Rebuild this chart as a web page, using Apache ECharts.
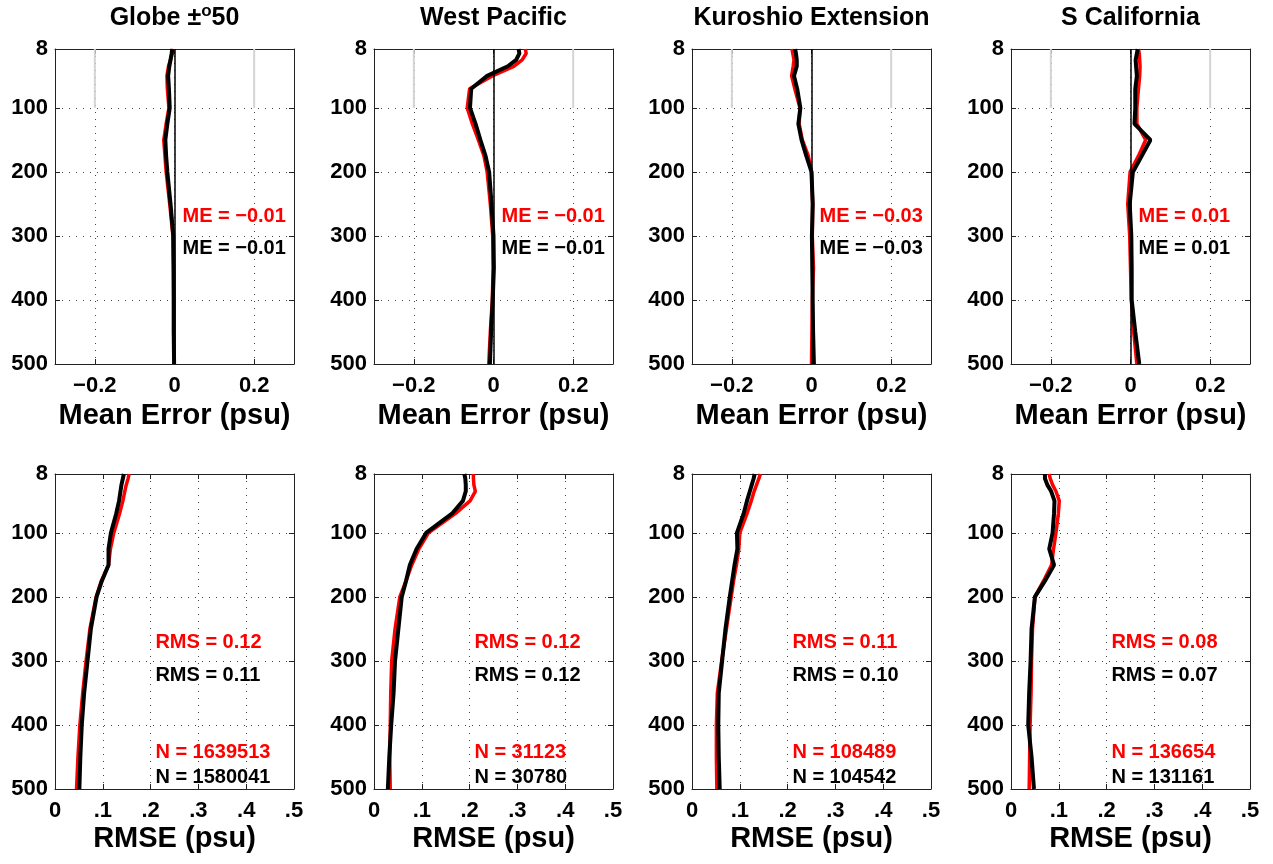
<!DOCTYPE html>
<html><head><meta charset="utf-8">
<script src="https://cdn.jsdelivr.net/npm/echarts@6/dist/echarts.min.js"></script>
<style>html,body{margin:0;padding:0;background:#fff}#c{width:1273px;height:864px}</style>
</head><body><div id="c"></div>
<script>
// ---------------- data ----------------
const depths = [8, 15, 25, 35, 50, 70, 100, 125, 150, 175, 200, 250, 300, 350, 400, 450, 500];
const yTicks = [8, 100, 200, 300, 400, 500];
const meTicks = [-0.2, 0, 0.2];
const guideX = [-0.2, 0.2];
const guideDepth = [8, 100];
const regionTitles = ['Globe ±|o|50', 'West Pacific', 'Kuroshio Extension', 'S California'];

// Mean error profiles (psu)
const meRedGlobe   = [-0.003,-0.006,-0.010,-0.015,-0.019,-0.018,-0.014,-0.021,-0.027,-0.024,-0.021,-0.012,-0.004,-0.003,-0.002,-0.002,-0.001];
const meBlackGlobe = [-0.006,-0.007,-0.010,-0.013,-0.016,-0.014,-0.012,-0.018,-0.023,-0.021,-0.018,-0.010,-0.003,-0.002,-0.002,-0.002,-0.001];
const meRedWP      = [0.080,0.082,0.072,0.051,-0.003,-0.060,-0.066,-0.053,-0.038,-0.024,-0.016,-0.008,-0.002,-0.001,-0.003,-0.008,-0.012];
const meBlackWP    = [0.063,0.065,0.057,0.036,-0.016,-0.056,-0.059,-0.045,-0.033,-0.020,-0.011,-0.005,0.000,0.001,-0.002,-0.006,-0.009];
const meRedKE      = [-0.049,-0.047,-0.044,-0.046,-0.050,-0.042,-0.029,-0.031,-0.023,-0.008,0.000,0.003,0.002,0.005,0.002,0.001,0.000];
const meBlackKE    = [-0.041,-0.039,-0.037,-0.037,-0.044,-0.036,-0.028,-0.033,-0.025,-0.013,0.000,0.003,0.001,0.002,0.003,0.004,0.006];
const meRedSC      = [0.020,0.022,0.023,0.024,0.023,0.020,0.016,0.016,0.038,0.020,-0.001,-0.007,-0.002,0.000,0.002,0.008,0.016];
const meBlackSC    = [0.018,0.016,0.013,0.014,0.016,0.012,0.012,0.010,0.050,0.028,0.006,-0.002,0.002,0.003,0.003,0.012,0.022];

// RMSE profiles (psu)
const rmsRedGlobe   = [0.155,0.153,0.149,0.146,0.142,0.135,0.123,0.116,0.112,0.097,0.086,0.073,0.065,0.058,0.052,0.048,0.045];
const rmsBlackGlobe = [0.144,0.142,0.139,0.137,0.134,0.128,0.117,0.112,0.112,0.098,0.087,0.075,0.068,0.061,0.056,0.053,0.051];
const rmsRedWP      = [0.208,0.208,0.209,0.212,0.201,0.170,0.114,0.094,0.079,0.067,0.054,0.044,0.037,0.035,0.034,0.033,0.034];
const rmsBlackWP    = [0.189,0.191,0.192,0.192,0.186,0.163,0.109,0.089,0.075,0.067,0.058,0.051,0.044,0.041,0.036,0.032,0.029];
const rmsRedKE      = [0.143,0.140,0.135,0.130,0.124,0.115,0.100,0.098,0.093,0.087,0.082,0.072,0.062,0.053,0.051,0.051,0.052];
const rmsBlackKE    = [0.131,0.129,0.125,0.121,0.115,0.108,0.094,0.095,0.089,0.084,0.079,0.070,0.063,0.056,0.055,0.056,0.058];
const rmsRedSC      = [0.080,0.082,0.087,0.094,0.101,0.099,0.094,0.089,0.085,0.068,0.050,0.045,0.043,0.042,0.040,0.039,0.038];
const rmsBlackSC    = [0.071,0.071,0.076,0.084,0.091,0.090,0.087,0.080,0.090,0.071,0.050,0.043,0.041,0.038,0.036,0.043,0.048];

// Summary statistics
const meStatRed   = [-0.01, -0.01, -0.03, 0.01];
const meStatBlack = [-0.01, -0.01, -0.03, 0.01];
const rmsStatRed   = [0.12, 0.12, 0.11, 0.08];
const rmsStatBlack = [0.11, 0.12, 0.10, 0.07];
const nRed   = [1639513, 31123, 108489, 136654];
const nBlack = [1580041, 30780, 104542, 131161];

// ---------------- chart ----------------
const meRed = [meRedGlobe, meRedWP, meRedKE, meRedSC];
const meBlack = [meBlackGlobe, meBlackWP, meBlackKE, meBlackSC];
const rmsRed = [rmsRedGlobe, rmsRedWP, rmsRedKE, rmsRedSC];
const rmsBlack = [rmsBlackGlobe, rmsBlackWP, rmsBlackKE, rmsBlackSC];

const FONT = "'Liberation Sans', Arial, Helvetica, sans-serif";
const RED = '#ff0000', BLK = '#000000';
const colLeft = [55, 374, 692, 1011];
const W = 239;
const rowTop = [49, 474];
const H = 315;

function fmt(v) { return (v < 0 ? '\u2212' : '') + Math.abs(v).toFixed(2); }
function pairs(xs) { return xs.map((x, k) => [x, depths[k]]); }

const grid = [], xAxis = [], yAxis = [], series = [];
const dotted = { show: true, lineStyle: { color: '#444', type: [1, 6], width: 1 } };
const axisLineStyle = { show: true, onZero: false, lineStyle: { color: '#222', width: 1 } };

for (let r = 0; r < 2; r++) {
  for (let c = 0; c < 4; c++) {
    grid.push({ left: colLeft[c], top: rowTop[r], width: W, height: H, containLabel: false });
  }
}
// main axes
for (let g = 0; g < 8; g++) {
  const r = Math.floor(g / 4);
  const xa = {
    type: 'value', gridIndex: g, position: 'bottom',
    axisLine: axisLineStyle,
    axisTick: { show: true, inside: true, length: 5, lineStyle: { color: '#222' } },
    splitLine: dotted,
    nameLocation: 'middle',
    nameTextStyle: { fontFamily: FONT, fontWeight: 'bold', fontSize: 29, color: '#000' },
    axisLabel: { fontFamily: FONT, fontWeight: 'bold', fontSize: 22, color: '#000', margin: 11 }
  };
  if (r === 0) {
    xa.min = -0.3; xa.max = 0.3;
    xa.axisLabel.customValues = meTicks;
    xa.axisTick.customValues = meTicks;
    xa.axisLabel.formatter = v => (v < 0 ? '\u2212' : '') + String(Math.abs(Math.round(v * 10) / 10));
    xa.name = 'Mean Error (psu)';
    xa.nameGap = 37;
  } else {
    xa.min = 0; xa.max = 0.5; xa.interval = 0.1;
    xa.axisLabel.formatter = v => v === 0 ? '0' : '.' + Math.round(v * 10);
    xa.name = 'RMSE (psu)';
    xa.nameGap = 35;
  }
  xAxis.push(xa);
  yAxis.push({
    type: 'value', gridIndex: g, inverse: true, min: 8, max: 500, position: 'left',
    axisLine: axisLineStyle,
    axisTick: { show: true, inside: true, length: 5, customValues: yTicks, lineStyle: { color: '#222' } },
    axisLabel: { customValues: yTicks, fontFamily: FONT, fontWeight: 'bold', fontSize: 22, color: '#000', margin: 7 },
    splitLine: dotted
  });
}
// box axes (top/right) with inside ticks, titles on top row
for (let g = 0; g < 8; g++) {
  const r = Math.floor(g / 4), c = g % 4;
  const xt = {
    type: 'value', gridIndex: g, position: 'top',
    axisLine: axisLineStyle,
    axisTick: { show: true, inside: true, length: 5, lineStyle: { color: '#222' } },
    axisLabel: { show: false }, splitLine: { show: false }
  };
  if (r === 0) {
    xt.min = -0.3; xt.max = 0.3; xt.axisTick.customValues = meTicks;
    const parts = regionTitles[c].split('|');
    xt.name = parts.length === 3 ? '{a|' + parts[0] + '}{s|' + parts[1] + '}{a|' + parts[2] + '}' : '{a|' + parts[0] + '}';
    xt.nameLocation = 'middle';
    xt.nameGap = 16;
    xt.nameTextStyle = {
      rich: {
        a: { fontFamily: FONT, fontWeight: 'bold', fontSize: 25, color: '#000', lineHeight: 30 },
        s: { fontFamily: FONT, fontWeight: 'bold', fontSize: 17, color: '#000', lineHeight: 30, verticalAlign: 'top', padding: [0, 0, 8, 0] }
      }
    };
  } else {
    xt.min = 0; xt.max = 0.5; xt.interval = 0.1;
  }
  xAxis.push(xt);
  yAxis.push({
    type: 'value', gridIndex: g, inverse: true, min: 8, max: 500, position: 'right',
    axisLine: axisLineStyle,
    axisTick: { show: true, inside: true, length: 5, customValues: yTicks, lineStyle: { color: '#222' } },
    axisLabel: { show: false }, splitLine: { show: false }
  });
}

function statLabel(g, x, y, text, color) {
  series.push({
    type: 'scatter', xAxisIndex: g, yAxisIndex: g, symbolSize: 0, silent: true, z: 10,
    itemStyle: { opacity: 1 },
    data: [[x, y]],
    label: { show: true, position: 'right', distance: 0, formatter: text, opacity: 1,
      fontFamily: FONT, fontWeight: 'bold', fontSize: 20, color: color }
  });
}

for (let c = 0; c < 4; c++) {
  const g = c;
  // grey guide lines at +-0.2 near the surface
  guideX.forEach(gx => {
    series.push({ type: 'line', xAxisIndex: g, yAxisIndex: g, symbol: 'none', silent: true,
      lineStyle: { color: '#d4d4d4', width: 2 }, data: guideDepth.map(d => [gx, d]) });
  });
  series.push({ type: 'line', xAxisIndex: g, yAxisIndex: g, symbol: 'none', silent: true,
    lineStyle: { color: RED, width: 3.5 }, data: pairs(meRed[c]),
    markLine: { silent: true, symbol: 'none', label: { show: false },
      lineStyle: { color: '#000', width: 1.5, type: 'solid' }, data: [{ xAxis: 0 }] } });
  series.push({ type: 'line', xAxisIndex: g, yAxisIndex: g, symbol: 'none', silent: true,
    lineStyle: { color: BLK, width: 4 }, data: pairs(meBlack[c]) });
  statLabel(g, 0.02, 270, 'ME = ' + fmt(meStatRed[c]), RED);
  statLabel(g, 0.02, 320, 'ME = ' + fmt(meStatBlack[c]), BLK);

  const h = 4 + c;
  series.push({ type: 'line', xAxisIndex: h, yAxisIndex: h, symbol: 'none', silent: true,
    lineStyle: { color: RED, width: 3.5 }, data: pairs(rmsRed[c]) });
  series.push({ type: 'line', xAxisIndex: h, yAxisIndex: h, symbol: 'none', silent: true,
    lineStyle: { color: BLK, width: 4 }, data: pairs(rmsBlack[c]) });
  statLabel(h, 0.21, 271, 'RMS = ' + fmt(rmsStatRed[c]), RED);
  statLabel(h, 0.21, 323, 'RMS = ' + fmt(rmsStatBlack[c]), BLK);
  statLabel(h, 0.21, 443, 'N = ' + nRed[c], RED);
  statLabel(h, 0.21, 482, 'N = ' + nBlack[c], BLK);
}

const chart = echarts.init(document.getElementById('c'), null, { renderer: 'canvas' });
chart.setOption({ animation: false, backgroundColor: '#fff', grid, xAxis, yAxis, series });
</script></body></html>
